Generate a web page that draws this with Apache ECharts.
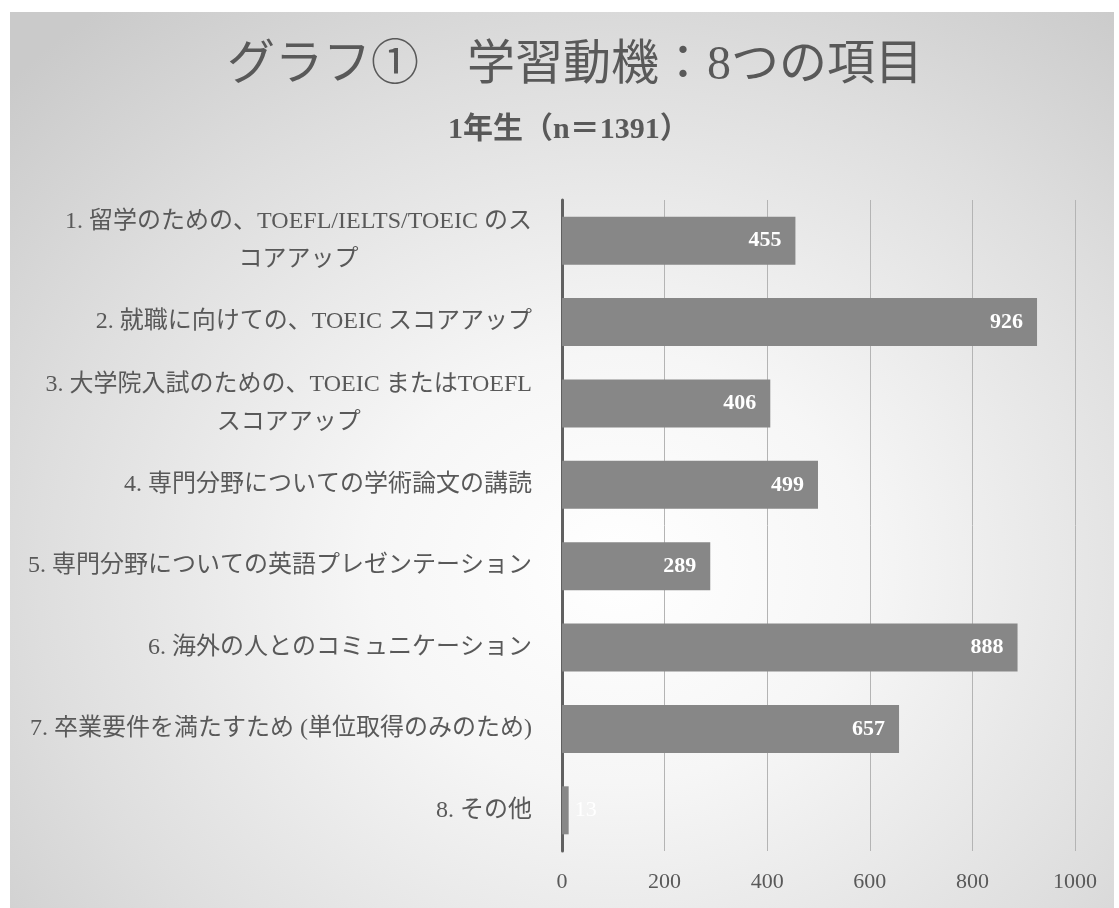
<!DOCTYPE html>
<html>
<head>
<meta charset="utf-8">
<script src="https://cdn.jsdelivr.net/npm/echarts@6/dist/echarts.min.js"></script>
<style>
html,body{margin:0;padding:0;background:#fff;}
#frame{position:absolute;left:10px;top:12px;width:1104px;height:896px;
background:radial-gradient(ellipse 75% 80% at 55% 62%, #ffffff 0%, #f6f6f6 30%, #dedede 70%, #cacaca 100%);}
#chart{position:absolute;left:0;top:0;width:1119px;height:908px;}
</style>
</head>
<body>
<div id="frame"></div>
<div id="chart"></div>
<script>
const categories = [
  "1. 留学のための、TOEFL/IELTS/TOEIC のス\nコアアップ",
  "2. 就職に向けての、TOEIC スコアアップ",
  "3. 大学院入試のための、TOEIC またはTOEFL\nスコアアップ",
  "4. 専門分野についての学術論文の講読",
  "5. 専門分野についての英語プレゼンテーション",
  "6. 海外の人とのコミュニケーション",
  "7. 卒業要件を満たすため (単位取得のみのため)",
  "8. その他"
];
const values = [455, 926, 406, 499, 289, 888, 657, 13];
const xTicks = [0, 200, 400, 600, 800, 1000];

const FONT = '"Liberation Serif", "Noto Sans CJK JP", serif';
const chart = echarts.init(document.getElementById('chart'), null, {renderer: 'canvas'});

const seriesData = values.map((v, i) => {
  const d = {value: v};
  if (v < 50) {
    d.label = {position: 'right', distance: 6, fontWeight: 'normal'};
  }
  return d;
});

chart.setOption({
  backgroundColor: 'transparent',
  title: [
    {text: 'グラフ①　学習動機：8つの項目', left: 222, top: 37,
     textStyle: {fontFamily: FONT, fontSize: 48, fontWeight: 'normal', color: '#595959'}},
    {text: '1年生（n＝1391）', left: 443, top: 110,
     textStyle: {fontFamily: FONT, fontSize: 30, fontWeight: 'bold', color: '#595959'}}
  ],
  grid: {left: 562, right: 44, top: 200, bottom: 57, containLabel: false},
  xAxis: {
    type: 'value', min: xTicks[0], max: xTicks[xTicks.length - 1], interval: 200,
    axisLine: {show: false}, axisTick: {show: false},
    splitLine: {show: true, lineStyle: {color: '#b4b4b4', width: 1}},
    axisLabel: {fontFamily: FONT, fontSize: 22, color: '#595959', margin: 20,
      formatter: v => String(v)}
  },
  yAxis: {
    type: 'category', data: categories, inverse: true,
    axisLine: {show: true, lineStyle: {color: '#606060', width: 3}},
    axisTick: {show: false},
    axisLabel: {
      margin: 30, align: 'right',
      formatter: v => v.split('\n').map(s => '{c|' + s + '}').join('\n'),
      rich: {c: {fontFamily: FONT, fontSize: 24, color: '#595959', align: 'center', lineHeight: 38}}
    }
  },
  series: [{
    type: 'bar', data: seriesData, barCategoryGap: '41%',
    itemStyle: {color: '#878787'},
    label: {show: true, position: 'insideRight', distance: 14, color: '#ffffff',
      fontFamily: FONT, fontSize: 22, fontWeight: 'bold'}
  }]
});
</script>
</body>
</html>
